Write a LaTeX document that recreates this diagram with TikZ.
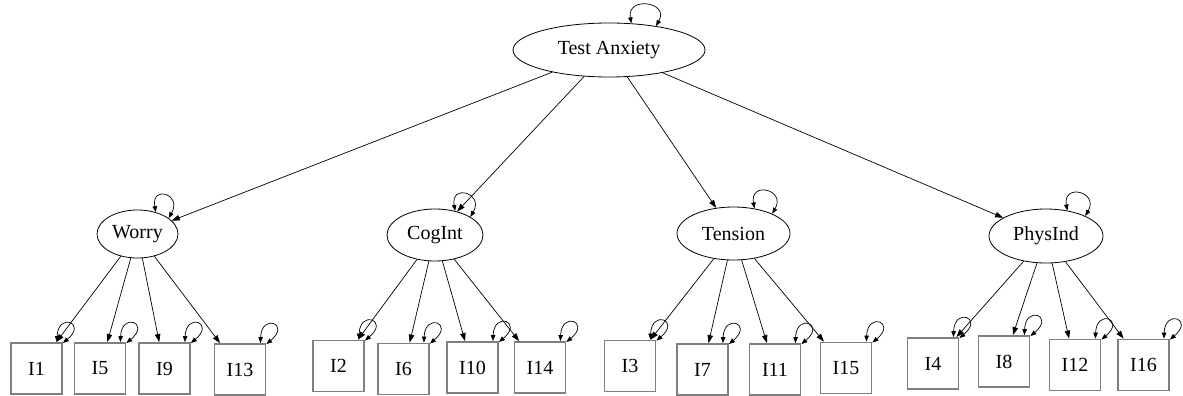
\documentclass[tikz,border=0pt]{standalone}
\usepackage{fontspec}
\setmainfont{Liberation Serif}
\usetikzlibrary{shapes.geometric,arrows.meta}
\definecolor{boxgray}{RGB}{128,128,128}

\begin{document}
\begin{tikzpicture}[x=1pt,y=-1pt,
  latent/.style={ellipse,draw,line width=0.8pt,inner sep=0pt,
    font=\fontsize{20}{24}\selectfont},
  manifest/.style={rectangle,draw=boxgray,line width=1.8pt,inner sep=0pt,
    minimum size=51pt,font=\fontsize{20}{24}\selectfont},
  loading/.style={-{Triangle[length=8pt,width=5.5pt]},line width=0.7pt},
  variance/.style={{Triangle[length=6pt,width=4.5pt]}-{Triangle[length=6pt,width=4.5pt]},
    line width=0.7pt}
]
\useasboundingbox (0,0) rectangle (1183,396);

% latent factors
\node[latent,minimum width=192pt,minimum height=54pt] (ta) at (609,50) {Test Anxiety};
\node[latent,minimum width=81pt,minimum height=48pt] (worry) at (137.5,234) {Worry};
\node[latent,minimum width=96pt,minimum height=52pt] (cog) at (435,235) {CogInt};
\node[latent,minimum width=113pt,minimum height=53pt] (ten) at (733.5,233.5) {Tension};
\node[latent,minimum width=114pt,minimum height=54pt] (phys) at (1046,236) {PhysInd};

% observed items
\node[manifest] (i1)  at (36.5,368.5) {I1};
\node[manifest] (i5)  at (100,368.5) {I5};
\node[manifest] (i9)  at (164.5,368.5) {I9};
\node[manifest] (i13) at (240,369.5) {I13};
\node[manifest] (i2)  at (338.5,366) {I2};
\node[manifest] (i6)  at (403.5,369) {I6};
\node[manifest] (i10) at (472.5,367.5) {I10};
\node[manifest] (i14) at (540,367.5) {I14};
\node[manifest] (i3)  at (630,366) {I3};
\node[manifest] (i7)  at (702.5,369.5) {I7};
\node[manifest] (i11) at (775,369.5) {I11};
\node[manifest] (i15) at (846,368) {I15};
\node[manifest] (i4)  at (933,363.5) {I4};
\node[manifest] (i8)  at (1004,361.5) {I8};
\node[manifest] (i12) at (1075,365) {I12};
\node[manifest] (i16) at (1143.5,365) {I16};

% second-order loadings
\foreach \f in {worry,cog,ten,phys}
  \draw[loading] (ta) -- (\f);

% first-order loadings
\foreach \f/\a/\b/\c/\d in {worry/i1/i5/i9/i13, cog/i2/i6/i10/i14,
                            ten/i3/i7/i11/i15, phys/i4/i8/i12/i16}
  \foreach \i in {\a,\b,\c,\d}
    \draw[loading] (\f) -- (\i);

% variances of the latent factors
\foreach \f in {ta,worry,cog,ten,phys}
  \draw[variance] (\f.50) .. controls +(-100:28) and +(-60:28) .. (\f.27);

% residual variances of the items
\foreach \i in {i1,i5,i9,i13,i2,i6,i10,i14,i3,i7,i11,i15,i4,i8,i12,i16}
  \draw[variance] ([xshift=-6pt]\i.north east)
    .. controls +(-88:30) and +(-40:32) .. ([yshift=-1pt]\i.north east);
\end{tikzpicture}
\end{document}
